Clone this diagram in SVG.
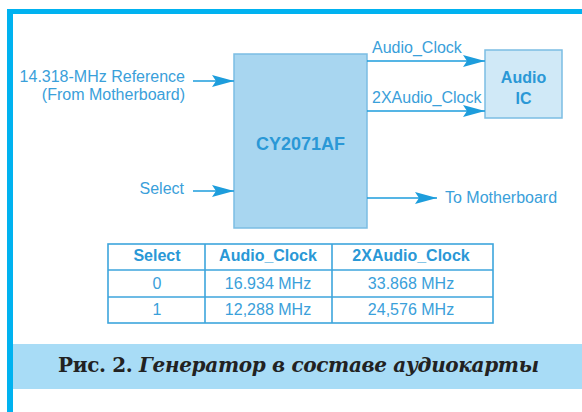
<svg xmlns="http://www.w3.org/2000/svg" width="582" height="412" viewBox="0 0 582 412">
<defs>
<style>
.lbl{font-family:"Liberation Sans",Arial,sans-serif;font-size:16px;fill:#3aa0da}
.b{font-weight:bold;fill:#2a98d6}
.ln{stroke:#1d9ddc;stroke-width:1.5;fill:none}
.tb{stroke:#3da5dc;stroke-width:1.6;fill:none}
.cap{font-family:"DejaVu Serif","Liberation Serif",serif;font-weight:bold;font-size:20px;fill:#222}
</style>
<marker id="ah" markerWidth="22" markerHeight="12" refX="22" refY="6" orient="auto" markerUnits="userSpaceOnUse">
<path d="M0,0 L22,6 L0,12 L4,6 Z" fill="#1d9ddc"/>
</marker>
</defs>
<rect x="0" y="0" width="582" height="412" fill="#ffffff"/>
<rect x="7" y="9" width="575" height="5" fill="#00b2f0"/>
<rect x="7" y="9" width="6" height="403" fill="#00b2f0"/>

<g id="chip">
<rect x="234" y="54" width="133" height="174" fill="#a8d6f0" stroke="#7bbde3" stroke-width="1.5"/>
<text class="lbl b" x="300.5" y="150" text-anchor="middle" style="font-size:18px">CY2071AF</text>
</g>
<g id="audio-ic">
<rect x="485" y="50" width="77" height="68" fill="#d0e9f7" stroke="#7bbde3" stroke-width="1.5"/>
<text class="lbl b" x="523.5" y="83" text-anchor="middle">Audio</text>
<text class="lbl b" x="523.5" y="104" text-anchor="middle">IC</text>
</g>
<g id="ref-label">
<text class="lbl" x="185" y="82" text-anchor="end">14.318-MHz Reference</text>
<text class="lbl" x="185" y="100" text-anchor="end">(From Motherboard)</text>
</g>
<g id="select-label">
<text class="lbl" x="184" y="194" text-anchor="end">Select</text>
</g>
<g id="to-mb-label">
<text class="lbl" x="445" y="203">To Motherboard</text>
</g>

<g id="connectors">
<line class="ln" x1="193" y1="81" x2="234" y2="81" marker-end="url(#ah)"/>
<line class="ln" x1="193" y1="191" x2="234" y2="191" marker-end="url(#ah)"/>
<line class="ln" x1="367" y1="61" x2="485" y2="61" marker-end="url(#ah)"/>
<line class="ln" x1="367" y1="111" x2="485" y2="111" marker-end="url(#ah)"/>
<line class="ln" x1="367" y1="198" x2="437" y2="198" marker-end="url(#ah)"/>
<text class="lbl" x="372" y="53">Audio_Clock</text>
<text class="lbl" x="372" y="103">2XAudio_Clock</text>
</g>

<g id="table">
<rect class="tb" x="108" y="244" width="385" height="79"/>
<line class="tb" x1="108" y1="270" x2="493" y2="270"/>
<line class="tb" x1="108" y1="297" x2="493" y2="297"/>
<line class="tb" x1="205" y1="244" x2="205" y2="323"/>
<line class="tb" x1="332" y1="244" x2="332" y2="323"/>
<text class="lbl b" x="157" y="261" text-anchor="middle">Select</text>
<text class="lbl b" x="268" y="261" text-anchor="middle">Audio_Clock</text>
<text class="lbl b" x="411" y="261" text-anchor="middle">2XAudio_Clock</text>
<text class="lbl" x="157" y="289" text-anchor="middle">0</text>
<text class="lbl" x="268" y="289" text-anchor="middle">16.934 MHz</text>
<text class="lbl" x="411" y="289" text-anchor="middle">33.868 MHz</text>
<text class="lbl" x="157" y="315" text-anchor="middle">1</text>
<text class="lbl" x="268" y="315" text-anchor="middle">12,288 MHz</text>
<text class="lbl" x="411" y="315" text-anchor="middle">24,576 MHz</text>
</g>

<g id="caption">
<rect x="13" y="344" width="569" height="45" fill="#a8dcf6"/>
<text class="cap" x="58" y="372" textLength="481" lengthAdjust="spacing">Рис. 2. <tspan font-style="italic">Генератор в составе аудиокарты</tspan></text>
</g>
</svg>
